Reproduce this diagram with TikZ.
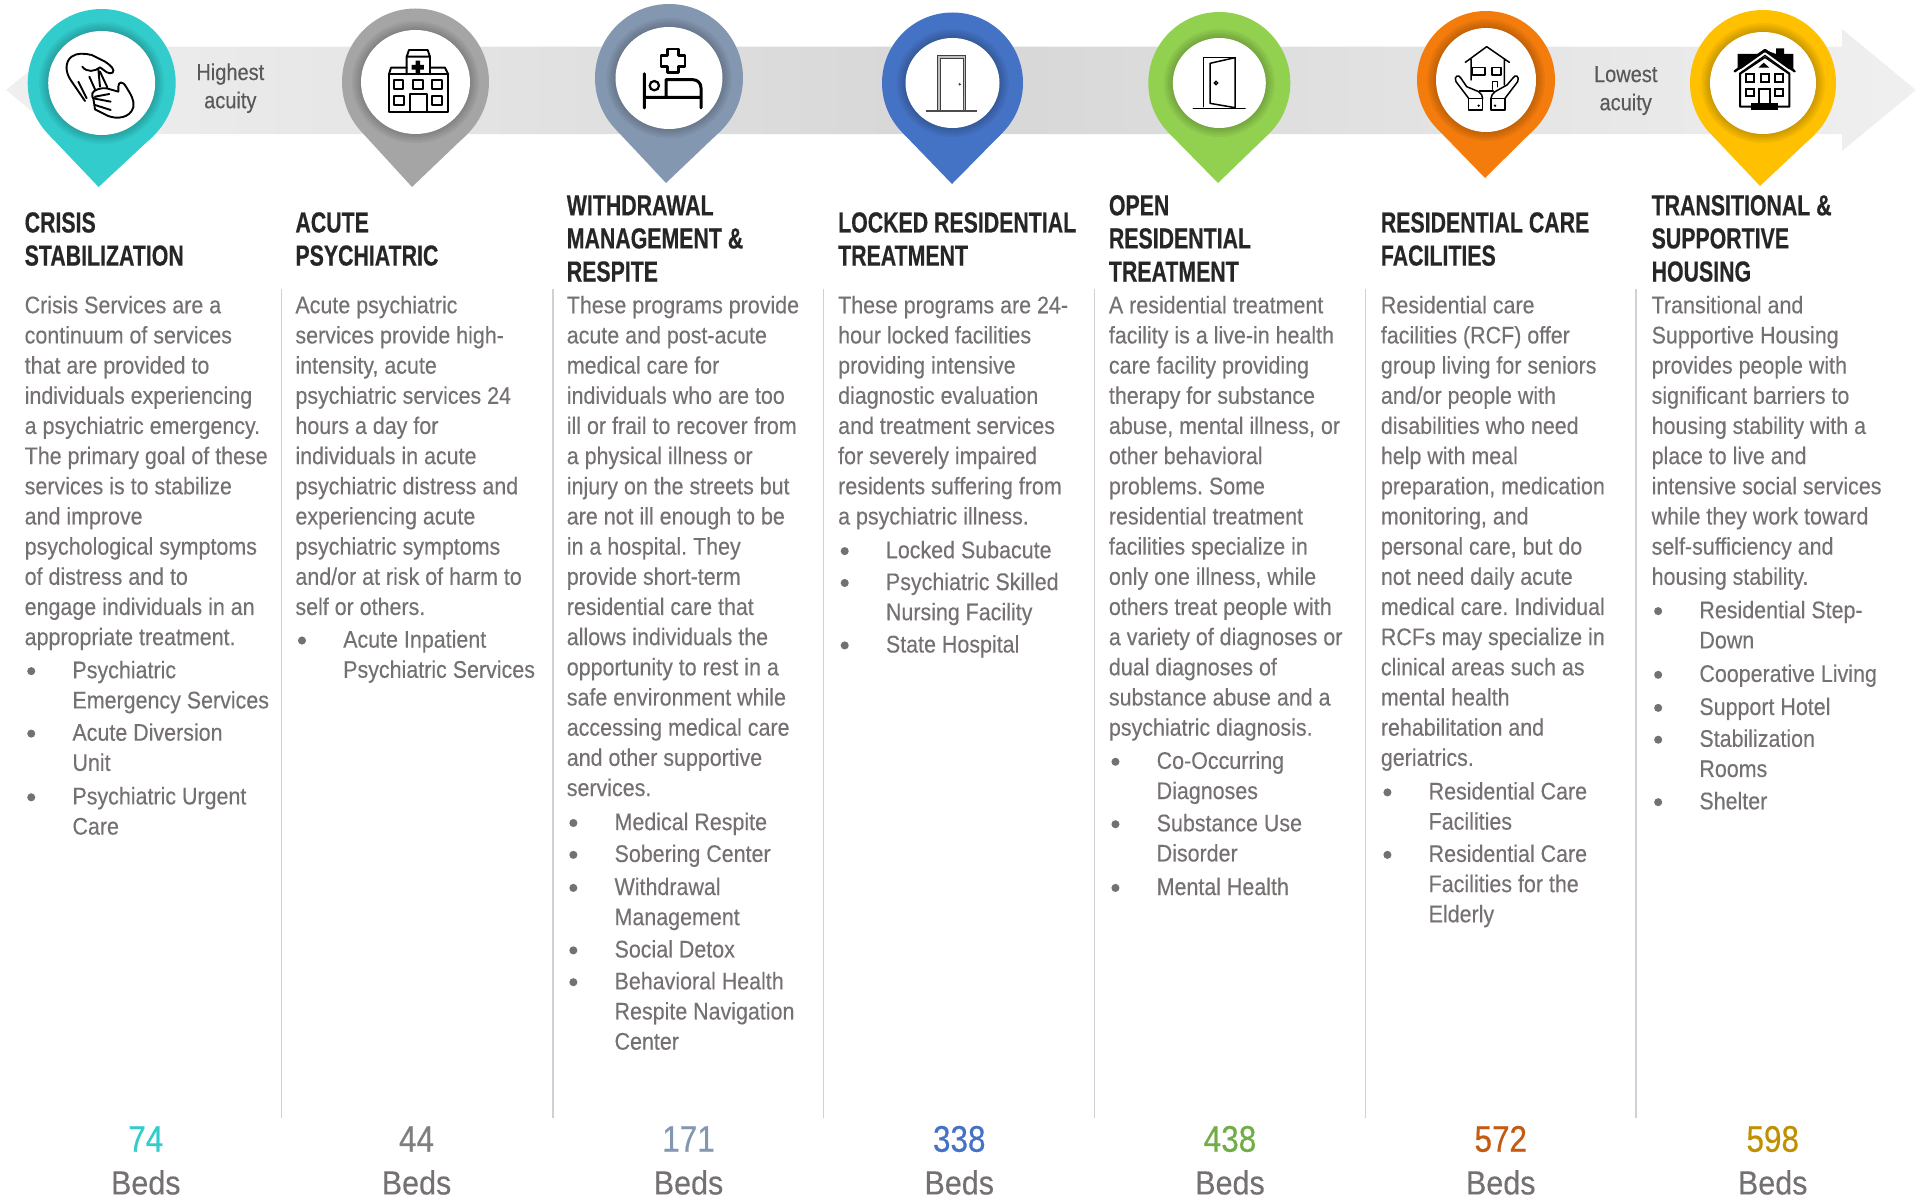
\documentclass[tikz,border=0pt]{standalone}
\usepackage{fontspec}
\setmainfont{Liberation Sans}
\newfontfamily\bodyf[FakeStretch=0.893,FakeBold=0.3]{Liberation Sans}
\newfontfamily\acuf[FakeStretch=0.87,FakeBold=0.3]{Liberation Sans}
\newfontfamily\bedf[FakeStretch=0.91,FakeBold=0.3]{Liberation Sans}
\newfontfamily\numf[FakeStretch=0.85,FakeBold=0.5]{Liberation Sans}
\newfontfamily\headf[FakeStretch=0.735,BoldFeatures={FakeBold=0.4}]{Liberation Sans}
\frenchspacing
\definecolor{bodygray}{HTML}{767171}
\definecolor{headdark}{HTML}{262626}
\definecolor{sepcol}{HTML}{CFD0D8}
\definecolor{cA}{HTML}{33CCCC}
\definecolor{cB}{HTML}{A5A5A5}
\definecolor{cC}{HTML}{8497B0}
\definecolor{cD}{HTML}{4472C4}
\definecolor{cE}{HTML}{92D050}
\definecolor{cF}{HTML}{F47C0C}
\definecolor{cG}{HTML}{FFC000}
\definecolor{nB}{HTML}{7F7F7F}
\definecolor{nE}{HTML}{70AD47}
\definecolor{nF}{HTML}{C55A11}
\definecolor{nG}{HTML}{BF9000}
\tikzset{
  bodytext/.style={anchor=north west,inner sep=0pt,align=left,text=bodygray,font=\bodyf\fontsize{24}{30.17}\selectfont,yshift=13pt},
  headtext/.style={anchor=north west,inner sep=0pt,align=left,text=headdark,font=\headf\bfseries\fontsize{29}{33.1}\selectfont,yshift=13.8pt},
  numtext/.style={inner sep=0pt,font=\numf\fontsize{37}{40}\selectfont},
  bedtext/.style={inner sep=0pt,text=bodygray,font=\bedf\fontsize{33.5}{36}\selectfont},
  acuity/.style={inner sep=0pt,align=center,text=black!65,font=\acuf\fontsize{23}{28.2}\selectfont},
  sepline/.style={draw=sepcol,line width=1.2pt},
  ic/.style={draw=black,line width=1.9pt,line join=round,line cap=round},
  ict/.style={draw=black,line width=1.5pt,line join=round,line cap=round,fill=none}
}
% pin: cx cy R tipx tipy rx ry colour
\newcommand\pinshape[8]{%
  \pgfmathsetmacro\pd{#5-#2}%
  \pgfmathsetmacro\pty{#3*#3/\pd}%
  \pgfmathsetmacro\ptx{sqrt(#3*#3-\pty*\pty)}%
  \fill[#8] (#4,#5) -- ({#1+\ptx},{#2+\pty}) -- ({#1-\ptx},{#2+\pty}) -- cycle;
  \fill[#8] (#1,#2) circle[radius=#3];
  \foreach \k in {9,7,5,3,1}{\fill[black,opacity=.045] (#1,#2) ellipse[x radius=#6+\k,y radius=#7+\k];}
  \fill[white] (#1,#2) ellipse[x radius=#6,y radius=#7];
}
\newcommand\para[4]{\node[bodytext] (#1) at (#2,#3) {\strut #4};}
\newcommand\bul[4]{\fill[bodygray] ({#2+5.5},{#3+1}) circle[radius=3.3];\node[bodytext] (#1) at ({#2+39},#3) {\strut #4};}
\newcommand\hd[4]{\node[headtext] (#1) at (#2,#3) {\strut #4};}
\newcommand\beds[5]{\node[numtext,text=#4] (#1n) at (#2,930) {#3};\node[bedtext] (#1b) at (#2,965.5) {Beds};}
\begin{document}
\begin{tikzpicture}[x=1pt,y=-1pt]
\useasboundingbox (0,0) rectangle (1921,1199);
% arrow band
\shade[left color=black!6,right color=black!6,middle color=black!16]
  (6,90) -- (80,29) -- (80,46.7) -- (1842,46.7) -- (1842,29) -- (1916,90) -- (1842,151) -- (1842,134) -- (80,134) -- (80,151) -- cycle;
% separators
\foreach \sx in {281.7,553,823.6,1094.7,1365.4,1636}{\draw[sepline] (\sx,289) -- (\sx,1118);}
% pins
\pinshape{101.7}{83}{74}{98.6}{187}{53.5}{52}{cA}
\pinshape{415.5}{82}{73.5}{412}{187}{54.5}{52}{cB}
\pinshape{669}{78}{74}{666}{183}{53.5}{51}{cC}
\pinshape{952.5}{83}{70.5}{952}{184}{47}{45}{cD}
\pinshape{1219.3}{83}{71}{1218}{183}{46.5}{45}{cE}
\pinshape{1486}{80}{69}{1485}{178}{50}{52}{cF}
\pinshape{1763}{83}{73}{1760}{186}{53}{51}{cG}
% icon 1: hands
\begin{scope}[shift={(50,30)},x=.3333pt,y=-.3333pt]
  \draw[ic] (105,213) -- (62,150) .. controls (45,125) and (45,95) .. (65,80) .. controls (80,68) and (105,70) .. (125,75) -- (165,95) .. controls (185,108) and (195,120) .. (188,128) .. controls (175,135) and (165,122) .. (150,112) .. controls (135,125) and (110,128) .. (97,110);
  \draw[ic] (85,155) -- (110,205) (118,140) -- (135,178) (145,118) -- (150,170) (150,125) -- (172,172);
  \draw[ic,fill=white] (135,238) -- (175,258) .. controls (200,268) and (240,265) .. (250,232) .. controls (255,210) and (240,190) .. (228,170) .. controls (218,152) and (205,155) .. (205,170) -- (205,185) -- (170,175) .. controls (155,172) and (130,180) .. (127,190) .. controls (125,198) and (128,205) .. (130,205) -- (135,238) -- cycle;
  \draw[ic] (135,200) -- (178,192) (130,205) -- (182,215) (135,225) -- (182,240);
\end{scope}
% icon 2: hospital
\begin{scope}[shift={(365,30)},x=.3333pt,y=-.3333pt]
  \draw[ic] (72,245) rectangle (250,133);
  \draw[ic] (72,133) -- (78,113) -- (125,113) (195,113) -- (240,113) -- (250,133);
  \draw[ic] (125,133) -- (125,80) -- (132,60) -- (188,60) -- (195,80) -- (195,133) (125,80) -- (195,80);
  \fill[black] (152,92) rectangle (165,132) (140,105) rectangle (177,119);
  \draw[ic] (87,150) rectangle (115,178) (145,150) rectangle (173,178) (200,150) rectangle (230,178) (87,197) rectangle (117,225) (200,197) rectangle (230,225);
  \draw[ic] (135,245) -- (135,193) -- (185,193) -- (185,245);
\end{scope}
% icon 3: bed
\begin{scope}[shift={(620,28)},x=.3333pt,y=-.3333pt]
  \draw[black,line width=3pt,line cap=round,line join=round] (73,137) -- (73,240) (73,208) -- (243,208) -- (243,240) (243,208) -- (243,180) .. controls (243,165) and (232,155) .. (218,155) -- (138,155) -- (138,205);
  \draw[black,line width=2.2pt] (103,173) circle[radius=14];
  \draw[black,line width=2.8pt,line join=round] (143,63) -- (175,63) -- (175,83) -- (195,83) -- (195,115) -- (175,115) -- (175,133) -- (143,133) -- (143,115) -- (123,115) -- (123,83) -- (143,83) -- cycle;
\end{scope}
% icon 4: locked door
\begin{scope}[shift={(900,35)},x=.3333pt,y=-.3333pt]
  \fill[black!25] (113,228) -- (113,62) -- (197,62) -- (197,228) -- (190,228) -- (190,70) -- (122,70) -- (122,228) -- cycle;
  \draw[black!75,line width=.9pt] (113,228) -- (113,62) -- (197,62) -- (197,228) (122,228) -- (122,70) -- (190,70) -- (190,180);
  \draw[black!70,line width=1.4pt] (190,180) -- (190,228) (78,228) -- (232,228);
  \fill[black!75] (179,148) circle[radius=4];
\end{scope}
% icon 5: open door
\begin{scope}[shift={(1170,35)},x=.3333pt,y=-.3333pt]
  \draw[ict] (100,215) -- (100,68) -- (197,68) -- (197,215) (70,220) -- (225,220);
  \draw[ict] (120,85) -- (195,68) -- (195,218) -- (120,205) -- cycle;
  \draw[black,line width=1.3pt] (138,144) circle[radius=5];
\end{scope}
% icon 6: house in hands
\begin{scope}[shift={(1436,30)},x=.3333pt,y=-.3333pt]
  \draw[ict] (88,97) -- (152,50) -- (220,97) (105,88) -- (105,150) (205,88) -- (205,165);
  \draw[ict] (110,113) rectangle (147,135) (168,113) rectangle (195,135);
  \draw[ict] (170,178) -- (170,155) -- (185,155) -- (185,170) (130,183) -- (172,183);
  \draw[ict] (98,205) rectangle (140,240) (165,205) rectangle (207,240);
  \draw[ict] (98,205) -- (60,155) .. controls (52,140) and (68,130) .. (75,145) -- (92,170) -- (128,185) .. controls (135,190) and (140,198) .. (140,205);
  \draw[ict] (207,205) -- (245,155) .. controls (252,140) and (238,130) .. (230,145) -- (213,165) -- (177,185) .. controls (170,190) and (165,198) .. (165,205);
  \fill[black] (128,227) circle[radius=4] (177,227) circle[radius=4];
\end{scope}
% icon 7: house
\begin{scope}[shift={(1710,30)},x=.3333pt,y=-.3333pt]
  \fill[black] (83,118) -- (83,72) -- (150,72) -- (165,60) -- (198,72) -- (198,55) -- (222,55) -- (222,72) -- (250,72) -- (250,118) -- cycle;
  \draw[black,line width=2pt,fill=white,line join=round] (90,128) -- (165,75) -- (238,128) -- (238,230) -- (90,230) -- cycle;
  \draw[black,line width=2.4pt,line join=round,line cap=round] (74,124) -- (165,60) -- (254,124);
  \draw[white,line width=1.9pt,line join=round] (80,130) -- (165,70) -- (248,130);
  \draw[black,line width=1.6pt,line join=round] (90,132) -- (165,82) -- (238,132);
  \fill[black] (145,113) -- (178,113) -- (161,98) -- cycle;
  \draw[black,line width=1.8pt] (108,133) rectangle (132,157) (152,133) rectangle (176,157) (196,133) rectangle (220,157) (108,177) rectangle (132,199) (196,177) rectangle (220,199) (148,225) -- (148,177) -- (180,177) -- (180,225);
  \fill[black] (124,218) rectangle (205,240);
\end{scope}
% text in 1568-wide coordinates
\begin{scope}[x=1.2251pt,y=-1.2247pt]
\node[acuity] (high) at (188,72) {Highest\\acuity};
\node[acuity] (low) at (1327,74) {Lowest\\acuity};
% column 1
\hd{h1}{20}{182}{CRISIS\\STABILIZATION}
\para{p1}{20}{249}{Crisis Services are a\\continuum of services\\that are provided to\\individuals experiencing\\a psychiatric emergency.\\The primary goal of these\\services is to stabilize\\and improve\\psychological symptoms\\of distress and to\\engage individuals in an\\appropriate treatment.}
\bul{b1a}{20}{547}{Psychiatric\\Emergency Services}
\bul{b1b}{20}{598}{Acute Diversion\\Unit}
\bul{b1c}{20}{650}{Psychiatric Urgent\\Care}
% column 2
\hd{h2}{241}{182}{ACUTE\\PSYCHIATRIC}
\para{p2}{241}{249}{Acute psychiatric\\services provide high-\\intensity, acute\\psychiatric services 24\\hours a day for\\individuals in acute\\psychiatric distress and\\experiencing acute\\psychiatric symptoms\\and/or at risk of harm to\\self or others.}
\bul{b2a}{241}{522}{Acute Inpatient\\Psychiatric Services}
% column 3
\hd{h3}{462.5}{168}{WITHDRAWAL\\MANAGEMENT \&\\RESPITE}
\para{p3}{462.5}{249}{These programs provide\\acute and post-acute\\medical care for\\individuals who are too\\ill or frail to recover from\\a physical illness or\\injury on the streets but\\are not ill enough to be\\in a hospital. They\\provide short-term\\residential care that\\allows individuals the\\opportunity to rest in a\\safe environment while\\accessing medical care\\and other supportive\\services.}
\bul{b3a}{462.5}{671}{Medical Respite}
\bul{b3b}{462.5}{697}{Sobering Center}
\bul{b3c}{462.5}{724}{Withdrawal\\Management}
\bul{b3d}{462.5}{775}{Social Detox}
\bul{b3e}{462.5}{801}{Behavioral Health\\Respite Navigation\\Center}
% column 4
\hd{h4}{684}{182}{LOCKED RESIDENTIAL\\TREATMENT}
\para{p4}{684}{249}{These programs are 24-\\hour locked facilities\\providing intensive\\diagnostic evaluation\\and treatment services\\for severely impaired\\residents suffering from\\a psychiatric illness.}
\bul{b4a}{684}{449}{Locked Subacute}
\bul{b4b}{684}{475}{Psychiatric Skilled\\Nursing Facility}
\bul{b4c}{684}{526}{State Hospital}
% column 5
\hd{h5}{905}{168}{OPEN\\RESIDENTIAL\\TREATMENT}
\para{p5}{905}{249}{A residential treatment\\facility is a live-in health\\care facility providing\\therapy for substance\\abuse, mental illness, or\\other behavioral\\problems. Some\\residential treatment\\facilities specialize in\\only one illness, while\\others treat people with\\a variety of diagnoses or\\dual diagnoses of\\substance abuse and a\\psychiatric diagnosis.}
\bul{b5a}{905}{621}{Co-Occurring\\Diagnoses}
\bul{b5b}{905}{672}{Substance Use\\Disorder}
\bul{b5c}{905}{724}{Mental Health}
% column 6
\hd{h6}{1127}{182}{RESIDENTIAL CARE\\FACILITIES}
\para{p6}{1127}{249}{Residential care\\facilities (RCF) offer\\group living for seniors\\and/or people with\\disabilities who need\\help with meal\\preparation, medication\\monitoring, and\\personal care, but do\\not need daily acute\\medical care. Individual\\RCFs may specialize in\\clinical areas such as\\mental health\\rehabilitation and\\geriatrics.}
\bul{b6a}{1127}{646}{Residential Care\\Facilities}
\bul{b6b}{1127}{697}{Residential Care\\Facilities for the\\Elderly}
% column 7
\hd{h7}{1348}{168}{TRANSITIONAL \&\\SUPPORTIVE\\HOUSING}
\para{p7}{1348}{249}{Transitional and\\Supportive Housing\\provides people with\\significant barriers to\\housing stability with a\\place to live and\\intensive social services\\while they work toward\\self-sufficiency and\\housing stability.}
\bul{b7a}{1348}{498}{Residential Step-\\Down}
\bul{b7b}{1348}{550}{Cooperative Living}
\bul{b7c}{1348}{577}{Support Hotel}
\bul{b7d}{1348}{603}{Stabilization\\Rooms}
\bul{b7e}{1348}{654}{Shelter}
% beds
\beds{d1}{119}{74}{cA}{}
\beds{d2}{340}{44}{nB}{}
\beds{d3}{562}{171}{cC}{}
\beds{d4}{783}{338}{cD}{}
\beds{d5}{1004}{438}{nE}{}
\beds{d6}{1225}{572}{nF}{}
\beds{d7}{1447}{598}{nG}{}
\end{scope}
\end{tikzpicture}
\end{document}
